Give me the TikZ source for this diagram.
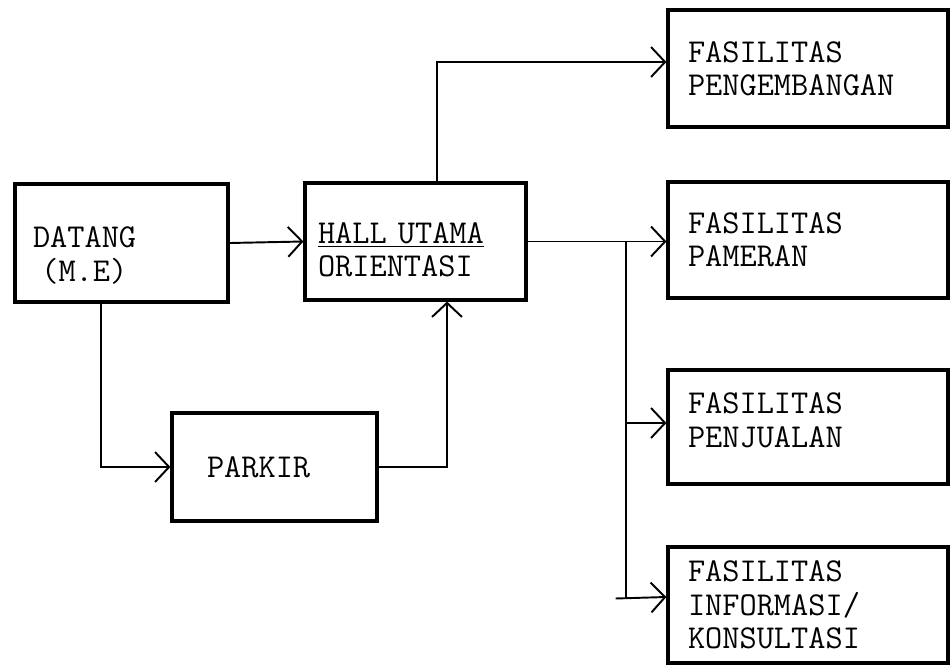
\documentclass[tikz,border=0pt]{standalone}
\usetikzlibrary{arrows.meta,calc}

\tikzset{
  box/.style={draw,rectangle,line width=1.8pt,align=left,
    font=\fontsize{19}{19}\selectfont\ttfamily,inner xsep=0.4cm},
  flow/.style={line width=1.1pt,
    -{Straight Barb[length=8pt,width=17pt,line width=1.1pt]}},
}

\begin{document}
\begin{tikzpicture}[x=0.02cm,y=-0.02cm]
  \useasboundingbox (0,0) rectangle (951,666);
  % left part
  \node[box,text width=3.54cm,inner xsep=0.36cm,minimum height=2.36cm] (datang) at (121.5,243) {\rule{0pt}{26pt}DATANG\\\hspace*{0.25em}(M.E)};
  \node[box,text width=3.9cm,inner xsep=0.26cm,minimum height=2.34cm] (hall) at (415.5,241.5) {\rule{0pt}{21pt}\underline{HALL UTAMA}\\ORIENTASI};
  \node[box,text width=2.7cm,inner xsep=0.7cm,minimum height=2.16cm] (parkir) at (274.5,467) {PARKIR};
  % fasilitas
  \node[box,text width=4.8cm,minimum height=2.34cm] (pengembangan) at (808,68.5) {FASILITAS\\PENGEMBANGAN};
  \node[box,text width=4.8cm,minimum height=2.32cm] (pameran) at (808,240) {FASILITAS\\PAMERAN};
  \node[box,text width=4.8cm,minimum height=2.28cm] (penjualan) at (808,427) {FASILITAS\\PENJUALAN\rule[-8pt]{0pt}{8pt}};
  \node[box,text width=4.8cm,minimum height=2.32cm] (informasi) at (808,605) {FASILITAS\\INFORMASI/\\KONSULTASI};
  \coordinate (br) at ($(hall.east)+(98,0)$);
  \path[flow] (datang.east) edge (hall.west);
  \draw[flow] ($(datang.south)+(-20.5,0)$) |- (parkir.west);
  \draw[flow] (parkir.east) -| ($(hall.south)+(31.5,0)$);
  \draw[flow] ($(hall.north)+(21.5,0)$) |- ($(pengembangan.west)+(0,-6.5)$);
  \path[flow] (hall.east) edge (hall.east -| pameran.west);
  \draw[line width=1.1pt] (br) -- ($(br)+(0,357)$);
  \draw[flow] (br) |- ($(penjualan.west)+(0,-4)$);
  \draw[flow] ($(br)+(-10,357)$) -- ($(informasi.west)+(0,-8)$);
\end{tikzpicture}
\end{document}
